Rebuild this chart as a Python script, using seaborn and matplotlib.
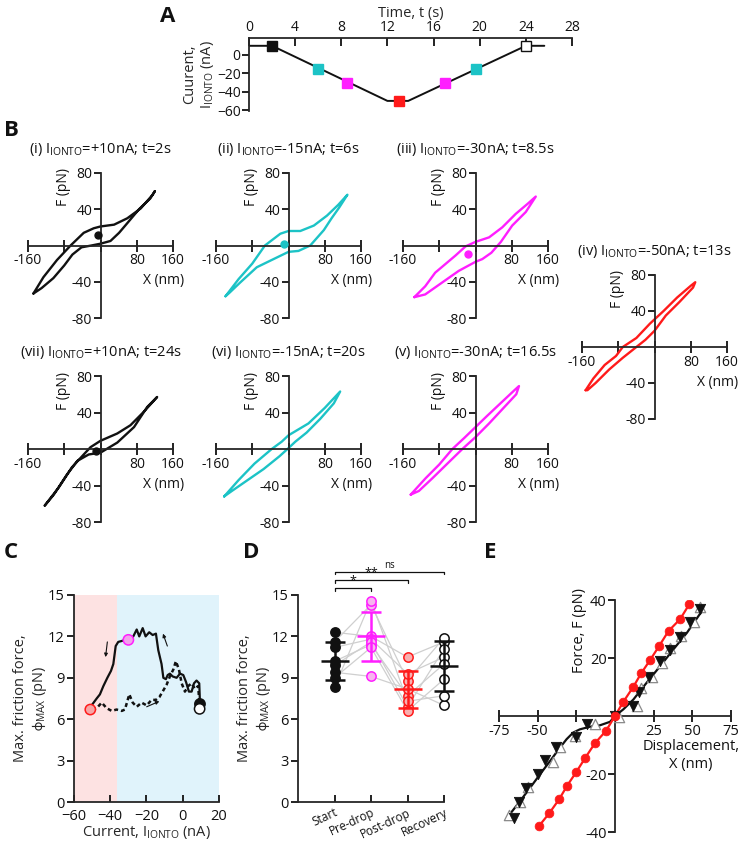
import matplotlib
matplotlib.use('Agg')
import matplotlib.pyplot as plt
import seaborn as sns

sns.set_theme(style='ticks')
plt.rcParams['font.family'] = ['Open Sans', 'DejaVu Sans']
plt.rcParams['mathtext.default'] = 'regular'
plt.rcParams['axes.linewidth'] = 1.3
plt.rcParams['xtick.major.width'] = 1.3
plt.rcParams['ytick.major.width'] = 1.3
plt.rcParams['text.color'] = '#111111'
plt.rcParams['xtick.color'] = '#111111'
plt.rcParams['ytick.color'] = '#111111'

BLACK = '#111111'
CYAN = '#1cc3c6'
MAGENTA = '#ff1eff'
RED = '#ff1a1a'

# ---- A: iontophoresis current protocol
a_time = [0, 2, 12, 13.8, 24, 25.6]
a_current = [10, 10, -50, -50, 10, 10]
a_mark_time = [2, 6, 8.5, 13, 17, 19.7, 24]
a_mark_current = [10, -15, -30, -50, -30, -15, 10]
a_mark_color = [BLACK, CYAN, MAGENTA, RED, MAGENTA, CYAN, 'white']

# ---- B: force-displacement loops (closed outlines)
loop_i_x = [-148, -126, -96, -66, -37, -15, 0, 30, 59, 89, 115, 120, 110, 85, 58, 41, 22, 0, -20, -42, -62, -80, -104, -130, -148]
loop_i_y = [-53, -35, -16, 0, 14, 19, 21, 23, 30, 41, 56, 60, 52, 40, 24, 14, 5, 2, 0, -2, -10, -22, -36, -47, -53]
loop_ii_x = [-139, -110, -80, -52, -18, 0, 26, 56, 85, 110, 130, 112, 95, 78, 48, 22, 0, -33, -70, -107, -130, -139]
loop_ii_y = [-56, -37, -20, 0, 13, 16, 16, 22, 33, 45, 56, 42, 30, 17, 0, -6, -7, -15, -24, -41, -52, -56]
loop_iii_x = [-135, -111, -89, -44, -22, 0, 30, 59, 89, 115, 133, 111, 81, 56, 35, 15, 0, -37, -74, -111, -135]
loop_iii_y = [-57, -45, -30, -11, -1, 4, 9, 20, 35, 46, 54, 37, 22, 4, -8, -15, -18, -28, -41, -54, -57]
loop_iv_x = [-152, -135, -110, -85, -70, -40, -10, 20, 50, 80, 90, 85, 55, 25, 0, -20, -45, -70, -100, -130, -148, -152]
loop_iv_y = [-48, -35, -20, -10, 0, 10, 26, 40, 55, 68, 72, 66, 50, 35, 18, 8, -2, -12, -25, -40, -48, -48]
loop_v_x = [-143, -110, -80, -51, -25, 0, 25, 55, 85, 96, 90, 60, 30, 10, 0, -29, -60, -95, -125, -143]
loop_v_y = [-50, -32, -17, 0, 12, 24, 36, 50, 64, 69, 60, 44, 28, 18, 13, 0, -15, -32, -46, -50]
loop_vi_x = [-142, -110, -75, -37, -15, 0, 44, 80, 114, 100, 70, 40, 15, 0, -20, -55, -90, -125, -142]
loop_vi_y = [-52, -34, -16, 0, 8, 15, 28, 45, 63, 50, 33, 18, 8, 1, -8, -22, -34, -46, -52]
loop_vii_x = [-123, -92, -63, -37, -22, 0, 37, 66, 96, 125, 103, 74, 37, 0, -26, -51, -74, -103, -123]
loop_vii_y = [-62, -42, -20, -6, 2, 9, 17, 26, 41, 57, 46, 24, 7, -4, -6, -13, -28, -50, -62]
loop_titles = ['(i) I$_{IONTO}$=+10nA; t=2s', '(ii) I$_{IONTO}$=-15nA; t=6s',
               '(iii) I$_{IONTO}$=-30nA; t=8.5s', '(iv) I$_{IONTO}$=-50nA; t=13s',
               '(v) I$_{IONTO}$=-30nA; t=16.5s', '(vi) I$_{IONTO}$=-15nA; t=20s',
               '(vii) I$_{IONTO}$=+10nA; t=24s']
dot_i = (-6, 12)
dot_ii = (-10, 2)
dot_iii = (-16, -9)
dot_vii = (-11, -2)

# ---- C: max friction force vs current
c_down_current = [-50.3, -47.5, -45.7, -43.8, -41.6, -39.6, -38.3, -37.0, -35.6, -32.8, -30.0, -27.3, -25.4, -24.0,
                  -22.1, -20.5, -18.5, -16.6, -14.8, -13.5, -11.7, -10.7, -9.3, -8.3, -7.1, -5.6, -3.4, -1.5, 0.3,
                  1.8, 3.4, 4.9, 6.2, 7.6, 9.1, 9.5]
c_down_force = [7.0, 7.5, 7.8, 8.4, 9.0, 9.5, 10.0, 11.3, 11.6, 11.7, 11.7, 12.0, 12.5, 12.0,
                12.6, 12.0, 12.3, 12.1, 12.2, 11.0, 10.0, 9.0, 8.9, 9.2, 9.3, 9.1, 9.0, 9.3, 9.2,
                8.7, 8.0, 8.0, 8.6, 8.8, 8.6, 7.2]
c_up_current = [-50.0, -47.5, -44.7, -42.0, -39.2, -36.5, -33.7, -31.9, -29.5, -27.6, -25.4, -22.7, -19.9, -17.2,
                -14.8, -12.9, -11.1, -8.9, -7.1, -5.2, -3.8, -2.1, -0.6, 1.2, 3.0, 4.9, 6.7, 8.5, 9.3]
c_up_force = [6.7, 6.8, 7.2, 6.8, 6.6, 6.7, 6.6, 6.7, 7.8, 7.2, 6.9, 7.2, 7.0, 7.4,
              7.4, 7.6, 8.0, 8.5, 9.1, 9.6, 10.2, 9.6, 8.6, 8.0, 8.4, 8.6, 8.2, 8.4, 7.0]
c_pt_current = [-51, -30, 9.5, 9.3]
c_pt_force = [6.7, 11.75, 7.1, 6.75]
c_pt_face = ['#f6a5a5', '#f3a0ec', BLACK, 'white']
c_pt_edge = [RED, MAGENTA, BLACK, BLACK]

# ---- D: paired friction values (8 bundles)
d_groups = ['Start', 'Pre-drop', 'Post-drop', 'Recovery']
d_start = [12.3, 11.6, 11.2, 10.2, 9.9, 9.4, 9.0, 8.3]
d_pre = [12.0, 14.3, 11.8, 11.4, 11.6, 9.1, 11.2, 14.6]
d_post = [10.5, 8.8, 9.3, 7.7, 6.9, 8.2, 6.6, 7.3]
d_rec = [11.6, 11.9, 10.5, 10.0, 11.1, 7.0, 8.9, 7.7]
d_face = [BLACK, '#f7b5ef', '#f8b0b0', 'white']
d_edge = [BLACK, MAGENTA, RED, BLACK]

# ---- E: force-displacement relations
e_red_x = [-49.1, -42.6, -36.1, -30.9, -24.9, -19.2, -13.0, -5.8, 0.0, 5.4, 11.9, 16.9, 22.7, 28.5, 34.6, 42.1, 48.0]
e_red_y = [-37.9, -33.6, -28.7, -24.0, -19.2, -14.4, -9.4, -5.1, 0.0, 4.9, 10.1, 14.7, 19.3, 24.1, 29.3, 33.4, 38.5]
e_tri_x = [-65.3, -62.0, -57.3, -49.7, -45.4, -38.3, -24.9, -18.4, 0.0, 11.5, 15.8, 22.3, 29.2, 35.7, 42.1, 48.6, 55.1]
e_tri_y = [-35.1, -29.8, -24.9, -20.0, -15.2, -10.6, -7.4, -2.8, 0.0, 3.6, 8.4, 13.3, 19.1, 22.8, 27.4, 32.5, 36.8]
e_open_x = [-68.5, -61.2, -56.2, -40.4, -35.7, -25.9, -13.0, 2.8, 14.0, 16.9, 23.8, 30.3, 35.7, 42.6, 50.8, 54.7]
e_open_y = [-34.1, -29.5, -24.4, -15.7, -10.6, -6.9, -2.9, -0.2, 3.6, 9.8, 13.6, 18.2, 23.3, 27.7, 32.5, 37.7]
e_fit_x = [-69.2, -61.6, -55.1, -48.6, -42.1, -35.7, -31.3, -27.0, -22.7, -16.2, -9.7, -3.2, 0.0, 5.4, 11.9,
           20.5, 29.2, 37.8, 46.5, 56.2]
e_fit_y = [-34.7, -29.5, -24.9, -20.2, -15.6, -11.0, -8.0, -5.7, -4.6, -3.7, -3.2, -2.0, 0.0, 2.3, 5.7,
           11.5, 17.2, 23.0, 28.7, 36.2]

W, H = 740, 844
fig = plt.figure(figsize=(W / 100, H / 100), dpi=100)


def px_axes(left, top, right, bottom):
    return fig.add_axes([left / W, 1 - bottom / H, (right - left) / W, (bottom - top) / H])


def panel_letter(x, y, s):
    fig.text(x / W, 1 - y / H, s, fontsize=16, fontweight='bold', ha='left', va='center')


PHI_LABEL = 'Max. friction force,\n$\\phi_{MAX}$ (pN)'

# ================= A
ax = px_axes(249, 38, 572, 111)
sns.lineplot(x=a_time, y=a_current, sort=False, estimator=None, color=BLACK, lw=1.4, ax=ax)
for t, c, col in zip(a_mark_time, a_mark_current, a_mark_color):
    ax.plot(t, c, marker='s', ms=6.5, mfc=col, mec=BLACK if col in (BLACK, 'white') else col,
            mew=1.0, zorder=5, clip_on=False)
ax.set_xlim(0, 28)
ax.set_ylim(-61, 18.5)
ax.xaxis.tick_top()
ax.xaxis.set_label_position('top')
ax.set_xticks(range(0, 29, 4))
ax.set_yticks([0, -20, -40, -60])
ax.tick_params(axis='x', direction='in', length=6, labelsize=10, pad=2)
ax.tick_params(axis='y', direction='out', length=5, labelsize=10, pad=1)
ax.spines['bottom'].set_visible(False)
ax.spines['right'].set_visible(False)
ax.set_xlabel('Time, t (s)', fontsize=10.5, labelpad=2)
ax.set_ylabel('Cuurent,\nI$_{IONTO}$ (nA)', fontsize=10.5, labelpad=1, linespacing=1.1)
ax.patch.set_alpha(0)
panel_letter(160, 16, 'A')

# ================= B
loops = [
    ((28, 173, 173, 318), loop_i_x, loop_i_y, BLACK, dot_i),
    ((216, 173, 361, 318), loop_ii_x, loop_ii_y, CYAN, dot_ii),
    ((403, 173, 548, 318), loop_iii_x, loop_iii_y, MAGENTA, dot_iii),
    ((582, 275, 727, 419), loop_iv_x, loop_iv_y, RED, None),
    ((403, 376, 548, 522), loop_v_x, loop_v_y, MAGENTA, None),
    ((216, 376, 361, 522), loop_vi_x, loop_vi_y, CYAN, None),
    ((28, 376, 173, 522), loop_vii_x, loop_vii_y, BLACK, dot_vii),
]
for (box, lx, ly, col, dot), title in zip(loops, loop_titles):
    ax = px_axes(*box)
    sns.lineplot(x=lx, y=ly, sort=False, estimator=None, color=col, lw=1.7, ax=ax)
    if dot is not None:
        ax.plot(dot[0], dot[1], 'o', ms=5, color=col, zorder=5)
    ax.set_xlim(-160, 160)
    ax.set_ylim(-80, 80)
    ax.spines['left'].set_position('zero')
    ax.spines['bottom'].set_position('zero')
    ax.spines['top'].set_visible(False)
    ax.spines['right'].set_visible(False)
    ax.set_xticks([-160, -80, 0, 80, 160], ['-160', '', '', '80', '160'])
    ax.set_yticks([-80, -40, 40, 80], ['-80', '-40', '40', '80'])
    ax.tick_params(axis='x', direction='inout', length=9, labelsize=10, pad=1)
    ax.tick_params(axis='y', direction='out', length=5, labelsize=10, pad=1)
    ax.text(-82, 64, 'F (pN)', rotation=90, ha='center', va='center', fontsize=10)
    ax.text(140, -39, 'X (nm)', ha='center', va='center', fontsize=10)
    ax.text(0.5, 1.16, title, transform=ax.transAxes, ha='center', va='center', fontsize=10.5)
    ax.patch.set_alpha(0)
panel_letter(4, 130, 'B')

# ================= C
ax = px_axes(74, 595, 219, 802)
ax.axvspan(-60, -36, color='#fde2e2', lw=0, zorder=0)
ax.axvspan(-36, 20, color='#e0f3fb', lw=0, zorder=0)
sns.lineplot(x=c_down_current, y=c_down_force, sort=False, estimator=None, color=BLACK, lw=1.6, ax=ax)
sns.lineplot(x=c_up_current, y=c_up_force, sort=False, estimator=None, color=BLACK, lw=1.8, ax=ax)
ax.lines[-1].set_linestyle((0, (1.6, 1.2)))
sns.scatterplot(x=c_pt_current, y=c_pt_force, s=55, c=c_pt_face, edgecolor=c_pt_edge, linewidth=1.1,
                zorder=5, ax=ax)
arrow = dict(arrowstyle='-|>', lw=0.8, color=BLACK, mutation_scale=5, shrinkA=0, shrinkB=0)
ax.annotate('', xy=(-42.6, 10.5), xytext=(-41.6, 11.6), arrowprops=arrow)
ax.annotate('', xy=(-12.9, 7.3), xytext=(-19.9, 6.9), arrowprops=arrow)
ax.annotate('', xy=(-10.9, 12.2), xytext=(-8.5, 11.3), arrowprops=arrow)
ax.set_xlim(-60, 20)
ax.set_ylim(0, 15)
ax.set_xticks([-60, -40, -20, 0, 20])
ax.set_yticks([0, 3, 6, 9, 12, 15])
ax.tick_params(direction='out', length=5, labelsize=10.5, pad=2)
ax.tick_params(axis='x', direction='in', pad=5)
sns.despine(ax=ax)
ax.set_xlabel('Current, I$_{IONTO}$ (nA)', fontsize=10.5, labelpad=0)
ax.set_ylabel(PHI_LABEL, fontsize=10.5, labelpad=-1, linespacing=1.1)
panel_letter(4, 553, 'C')

# ================= D
ax = px_axes(298, 595, 444, 802)
d_vals = [d_start, d_pre, d_post, d_rec]
for k in range(len(d_start)):
    sns.lineplot(x=[0, 1, 2, 3], y=[v[k] for v in d_vals], sort=False, estimator=None,
                 color='#cfcfcf', lw=0.9, ax=ax, zorder=1)
for g, vals in enumerate(d_vals):
    sns.scatterplot(x=[g] * len(vals), y=vals, s=45, color=d_face[g], edgecolor=d_edge[g], linewidth=1.1,
                    zorder=3, ax=ax)
    m = sum(vals) / len(vals)
    sd = (sum((v - m) ** 2 for v in vals) / (len(vals) - 1)) ** 0.5
    eb = ax.errorbar(g, m, yerr=sd, fmt='_', ms=20, mew=1.8, color=d_edge[g], ecolor=d_edge[g], elinewidth=1.8,
                     capsize=7, capthick=1.8, zorder=4)
    for art in eb.get_children():
        art.set_clip_on(False)
for coll in ax.collections:
    coll.set_clip_on(False)
for x1, yb, txt, fs in [(1, 15.5, '*', 9), (2, 16.1, '**', 9), (3, 16.7, 'ns', 7)]:
    ax.plot([0, 0, x1, x1], [yb - 0.2, yb, yb, yb - 0.2], color=BLACK, lw=0.9, clip_on=False)
    ax.text(x1 / 2, yb + 0.05, txt, ha='center', va='bottom', fontsize=fs, clip_on=False)
ax.set_xlim(-1, 3)
ax.set_ylim(0, 15)
ax.set_xticks(range(4), d_groups, rotation=25, ha='right', va='top', rotation_mode='anchor')
ax.set_yticks([0, 3, 6, 9, 12, 15])
ax.tick_params(direction='out', length=5, labelsize=10.5, pad=2)
ax.tick_params(axis='x', direction='in', labelsize=8.5, pad=3)
sns.despine(ax=ax)
ax.set_ylabel(PHI_LABEL, fontsize=10.5, labelpad=-1, linespacing=1.1)
panel_letter(243, 553, 'D')

# ================= E
ax = px_axes(499, 600, 731, 832)
sns.lineplot(x=e_fit_x, y=e_fit_y, sort=False, estimator=None, color=BLACK, lw=1.6, ax=ax)
sns.lineplot(x=e_red_x, y=e_red_y, sort=False, estimator=None, color=RED, lw=1.6, ax=ax)
sns.scatterplot(x=e_open_x, y=e_open_y, marker='^', s=55, facecolor='white', edgecolor='#8a8a8a',
                linewidth=0.9, zorder=3, ax=ax)
sns.scatterplot(x=e_tri_x, y=e_tri_y, marker='v', s=55, color=BLACK, edgecolor=BLACK, zorder=4, ax=ax)
sns.scatterplot(x=e_red_x, y=e_red_y, marker='o', s=40, color=RED, edgecolor=RED, zorder=5, ax=ax)
ax.set_xlim(-75, 75)
ax.set_ylim(-40, 40)
ax.spines['left'].set_position('zero')
ax.spines['bottom'].set_position('zero')
ax.spines['top'].set_visible(False)
ax.spines['right'].set_visible(False)
ax.set_xticks([-75, -50, -25, 0, 25, 50, 75], ['-75', '-50', '', '', '25', '50', '75'])
ax.set_yticks([-40, -20, 20, 40], ['-40', '-20', '20', '40'])
ax.tick_params(axis='x', direction='inout', length=9, labelsize=10.5, pad=1)
ax.tick_params(axis='y', direction='out', length=5, labelsize=10.5, pad=1)
ax.text(-23, 29.5, 'Force, F (pN)', rotation=90, ha='center', va='center', fontsize=10.5)
ax.text(49, -13.5, 'Displacement,\nX (nm)', ha='center', va='center', fontsize=10.5, linespacing=1.3)
ax.patch.set_alpha(0)
panel_letter(484, 553, 'E')

fig.savefig('out.png', dpi=100)
